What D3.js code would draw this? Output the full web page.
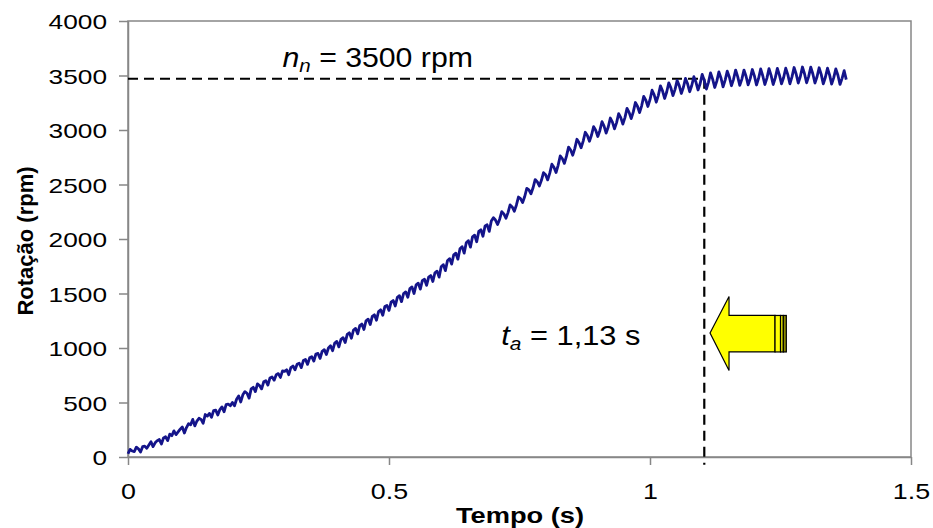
<!DOCTYPE html>
<html>
<head>
<meta charset="utf-8">
<script src="https://cdn.jsdelivr.net/npm/d3@7"></script>
<style>
  body { margin: 0; background: #fff; }
  svg { display: block; font-family: "Liberation Sans", Arial, sans-serif; }
</style>
</head>
<body>
<div id="chart"></div>
<script>
// sampling step of the recorded speed (s)
var dt = 0.004;

// rotation, one value every dt seconds starting at t = 0
var rotacao = [
  30, 70, 55, 50, 90, 75, 45, 95, 100, 80, 110, 140, 95, 130, 150, 160, 120, 175, 185, 150, 210, 195, 240, 205, 230,
  255, 275, 220, 270, 305, 295, 345, 285, 330, 355, 345, 310, 390, 375, 400, 365, 425, 430, 385, 435, 460, 415, 480, 485, 470,
  500, 470, 530, 560, 505, 570, 600, 585, 540, 625, 640, 600, 670, 655, 625, 690, 700, 660, 725, 735, 705, 755, 765, 730, 790,
  785, 800, 755, 820, 835, 800, 850, 860, 820, 885, 895, 850, 910, 920, 880, 945, 950, 905, 970, 985, 940, 1000, 1020, 975, 1045,
  1060, 1010, 1080, 1095, 1050, 1125, 1140, 1090, 1165, 1180, 1130, 1205, 1220, 1170, 1250, 1265, 1215, 1290, 1305, 1255, 1335, 1350, 1300, 1380, 1390,
  1345, 1420, 1435, 1385, 1465, 1480, 1425, 1500, 1515, 1465, 1545, 1560, 1500, 1580, 1595, 1540, 1620, 1630, 1575, 1650, 1665, 1610, 1690, 1705, 1650,
  1745, 1765, 1710, 1800, 1820, 1770, 1855, 1870, 1815, 1910, 1930, 1870, 1965, 1985, 1925, 2020, 2035, 1975, 2070, 2085, 2025, 2120, 2130, 2070, 2165,
  2195, 2174, 2133, 2182, 2251, 2230, 2191, 2242, 2313, 2294, 2255, 2310, 2385, 2370, 2335, 2390, 2465, 2450, 2415, 2470, 2545, 2526, 2487, 2538, 2609,
  2590, 2542, 2604, 2686, 2658, 2610, 2676, 2762, 2738, 2694, 2760, 2843, 2816, 2769, 2832, 2915, 2886, 2837, 2898, 2979, 2950, 2897, 2954, 3031, 2998,
  2940, 2996, 3076, 3036, 2972, 3028, 3110, 3072, 3010, 3068, 3150, 3114, 3054, 3114, 3198, 3162, 3104, 3166, 3252, 3218, 3160, 3222, 3308, 3274, 3216,
  3278, 3365, 3322, 3255, 3318, 3405, 3359, 3289, 3349, 3433, 3387, 3315, 3373, 3455, 3407, 3335, 3392, 3473, 3424, 3351, 3408, 3489, 3440, 3367, 3424,
  3510, 3455, 3376, 3437, 3524, 3467, 3390, 3448, 3533, 3477, 3396, 3458, 3540, 3486, 3406, 3465, 3550, 3490, 3409, 3467, 3550, 3493, 3414, 3471, 3555,
  3496, 3413, 3473, 3560, 3498, 3417, 3476, 3563, 3501, 3417, 3478, 3565, 3504, 3423, 3482, 3567, 3508, 3424, 3487, 3573, 3514, 3431, 3491, 3578, 3516,
  3433, 3492, 3577, 3514, 3431, 3488, 3571, 3510, 3423, 3484, 3567, 3506, 3421, 3480, 3561, 3502, 3418, 3474, 3544, 3462
];

var xTicks = [0, 0.5, 1, 1.5];
var yTicks = [0, 500, 1000, 1500, 2000, 2500, 3000, 3500, 4000];

// annotation values
var nominal = 3470;     // rpm level of the horizontal dashed line
var tAccel = 1.104;     // time of the vertical dashed line
var nominalLabel = "3500 rpm";
var accelLabel = "1,13 s";

var W = 933, H = 528;
var plotL = 128, plotT = 21, plotR = 911, plotB = 457;
var grey = "#878787";

var svg = d3.select("#chart").append("svg")
  .attr("width", W)
  .attr("height", H);

var x = d3.scaleLinear().domain([0, 1.5]).range([plotL, plotR]);
var y = d3.scaleLinear().domain([0, 4000]).range([plotB, plotT]);

// plot frame
svg.append("rect")
  .attr("x", plotL).attr("y", plotT)
  .attr("width", plotR - plotL).attr("height", plotB - plotT)
  .attr("fill", "none")
  .attr("stroke", grey)
  .attr("stroke-width", 1.5);

// y axis
var gy = svg.append("g")
  .attr("transform", "translate(" + plotL + ",0)")
  .call(d3.axisLeft(y).tickValues(yTicks).tickSize(9).tickSizeOuter(0).tickFormat(d3.format("d")));

gy.selectAll("text")
  .attr("x", 0)
  .attr("dy", "0.36em")
  .attr("transform", "translate(-21,0) scale(1.25,1)")
  .style("font-size", "21px")
  .style("font-family", "'Liberation Sans', Arial, sans-serif")
  .attr("fill", "#000");

// x axis
var gx = svg.append("g")
  .attr("transform", "translate(0," + plotB + ")")
  .call(d3.axisBottom(x).tickValues(xTicks).tickSize(8).tickSizeOuter(0).tickFormat(function(d) { return String(d); }));

gx.selectAll("text")
  .attr("y", 26)
  .attr("dy", "0.71em")
  .attr("transform", "scale(1.22,1)")
  .style("font-size", "22px")
  .style("font-family", "'Liberation Sans', Arial, sans-serif")
  .attr("fill", "#000");

svg.selectAll(".domain, .tick line")
  .attr("stroke", grey)
  .attr("stroke-width", 1.5);

// axis titles
svg.append("text")
  .attr("transform", "translate(520,523) scale(1.24,1)")
  .attr("text-anchor", "middle")
  .style("font-size", "22px")
  .style("font-weight", "bold")
  .text("Tempo (s)");

svg.append("text")
  .attr("transform", "translate(33,241) rotate(-90)")
  .attr("text-anchor", "middle")
  .style("font-size", "22px")
  .style("font-weight", "bold")
  .text("Rotação (rpm)");

// dashed guide lines
svg.append("line")
  .attr("x1", x(0)).attr("x2", x(tAccel))
  .attr("y1", y(nominal)).attr("y2", y(nominal))
  .attr("stroke", "#000")
  .attr("stroke-width", 2.2)
  .attr("stroke-dasharray", "10,6");

svg.append("line")
  .attr("x1", x(tAccel)).attr("x2", x(tAccel))
  .attr("y1", y(nominal)).attr("y2", y(-70))
  .attr("stroke", "#000")
  .attr("stroke-width", 2.2)
  .attr("stroke-dasharray", "10,6");

// speed curve
var line = d3.line()
  .x(function(d, i) { return x(i * dt); })
  .y(function(d) { return y(d); });

svg.append("path")
  .datum(rotacao)
  .attr("d", line)
  .attr("fill", "none")
  .attr("stroke", "#14148a")
  .attr("stroke-width", 2.8)
  .attr("stroke-linejoin", "round");

// n_n label
var nn = svg.append("text")
  .attr("transform", "translate(" + x(0.296) + "," + y(3580) + ") scale(1.08,1)")
  .style("font-size", "28px");
nn.append("tspan").style("font-style", "italic").text("n");
nn.append("tspan").style("font-style", "italic").style("font-size", "19px").attr("dy", 5).text("n");
nn.append("tspan").attr("dy", -5).text(" = " + nominalLabel);

// t_a label
var ta = svg.append("text")
  .attr("transform", "translate(" + x(0.715) + "," + y(1030) + ") scale(1.1,1)")
  .style("font-size", "28px");
ta.append("tspan").style("font-style", "italic").text("t");
ta.append("tspan").style("font-style", "italic").style("font-size", "19px").attr("dy", 5).text("a");
ta.append("tspan").attr("dy", -5).text(" = " + accelLabel);

// yellow arrow pointing at the acceleration time
var tipX = x(1.115), tipY = y(1138);
var arrow = svg.append("g").attr("transform", "translate(" + tipX + "," + tipY + ")");
arrow.append("path")
  .attr("d", "M0,0 L19,-36.5 L19,-17.5 L65,-17.5 L65,19 L19,19 L19,37.5 Z")
  .attr("fill", "#ffff00")
  .attr("stroke", "#000")
  .attr("stroke-width", 1.2)
  .attr("stroke-linejoin", "miter");
arrow.append("rect")
  .attr("x", 65).attr("y", -17.5).attr("width", 5.5).attr("height", 36.5)
  .attr("fill", "#ffff00").attr("stroke", "#000").attr("stroke-width", 1.2);
arrow.append("rect")
  .attr("x", 70.5).attr("y", -17.5).attr("width", 2.8).attr("height", 36.5)
  .attr("fill", "#e8e800").attr("stroke", "#000").attr("stroke-width", 1.2);
arrow.append("rect")
  .attr("x", 73.3).attr("y", -17.5).attr("width", 3).attr("height", 36.5)
  .attr("fill", "#8a8a00").attr("stroke", "#000").attr("stroke-width", 1.2);
</script>
</body>
</html>
